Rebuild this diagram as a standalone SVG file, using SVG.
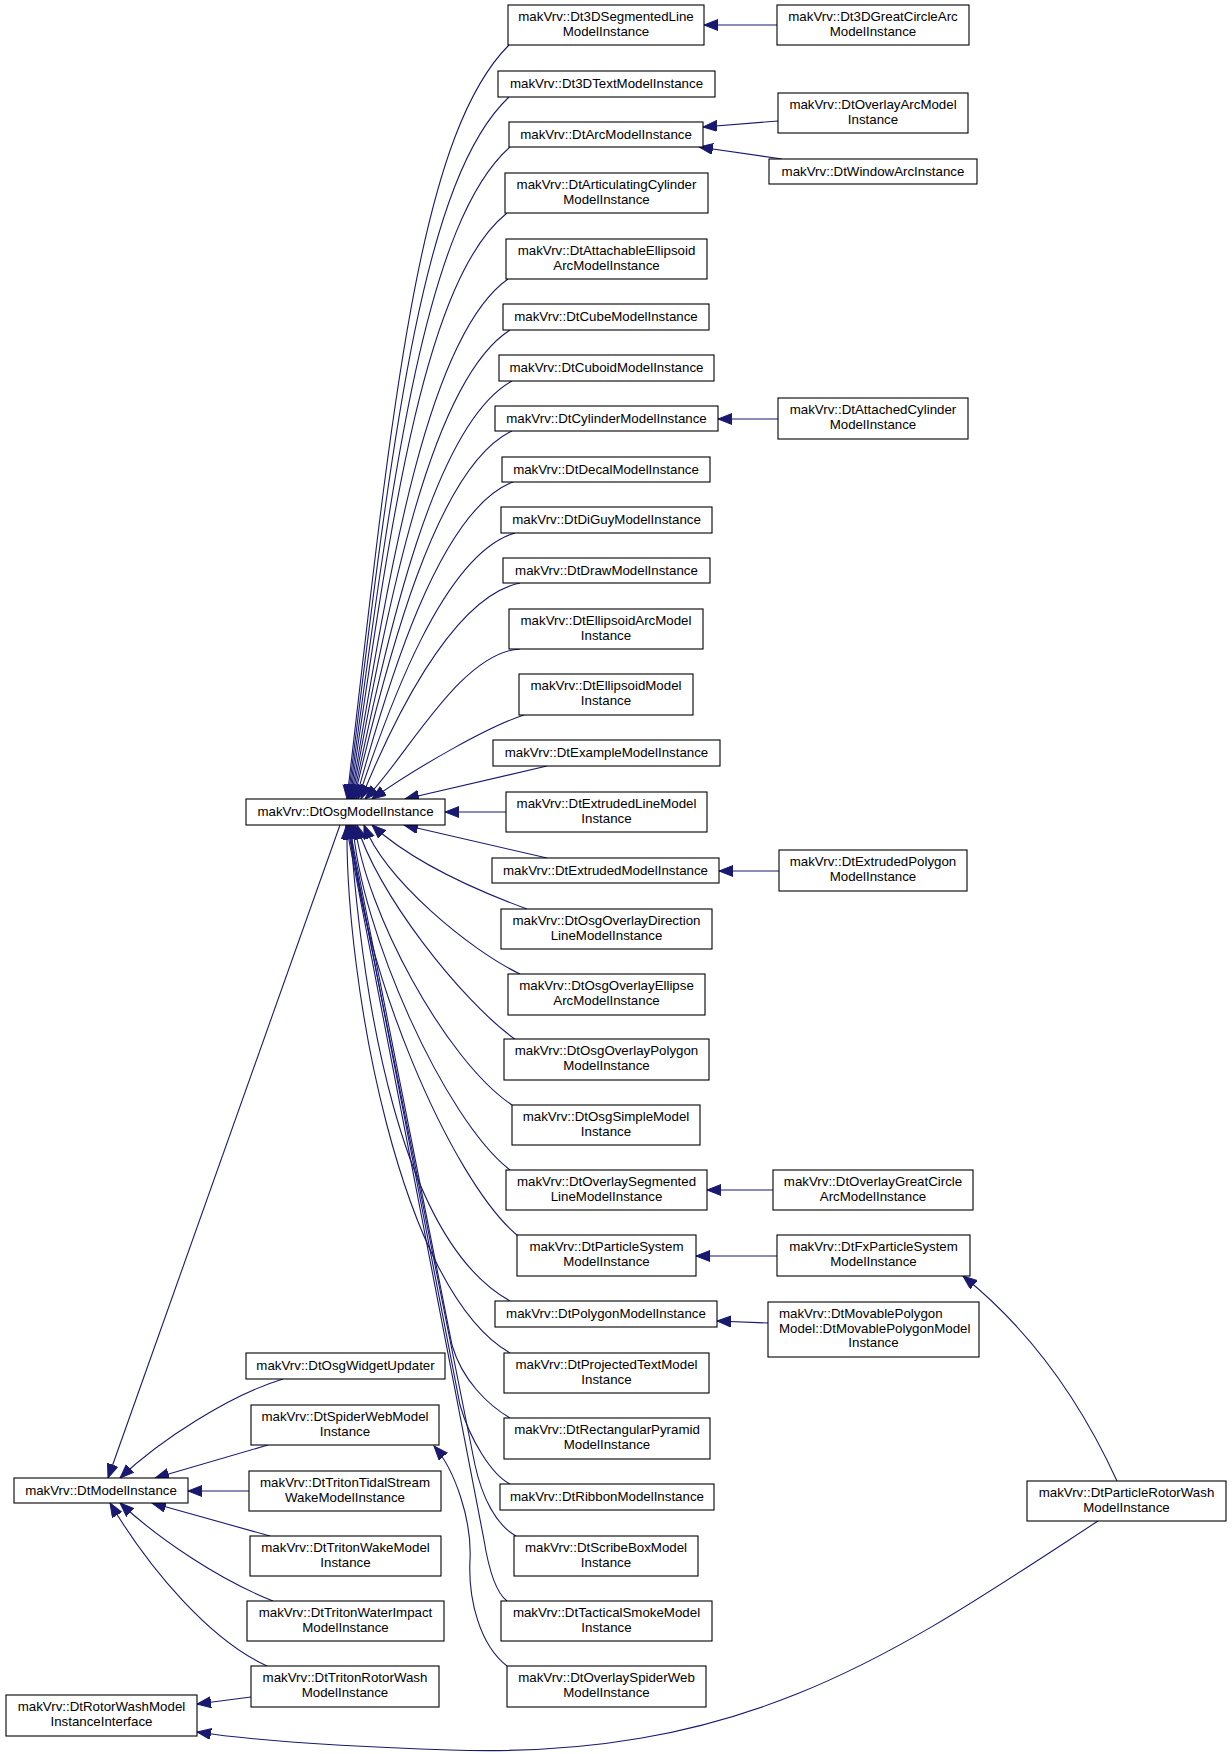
<svg xmlns="http://www.w3.org/2000/svg" width="1232" height="1754" viewBox="0 0 1232 1754">
<style>
.node rect{fill:#fff;stroke:#000;stroke-width:1.1}
.node text{font-family:"Liberation Sans",Arial,Helvetica,sans-serif;font-size:13.3px;text-anchor:middle;fill:#000}
.node text.l{text-anchor:start}
.edge{fill:none;stroke:#191970;stroke-width:1.1;marker-end:url(#ah)}
</style>
<defs>
<marker id="ah" markerWidth="15" markerHeight="12" refX="14" refY="5.5" orient="auto" markerUnits="userSpaceOnUse">
<path d="M0,0 L14,5.5 L0,11 Z" fill="#191970" stroke="#191970" stroke-width="1"/>
</marker>
</defs>
<rect width="1232" height="1754" fill="#fff"/>
<g id="edges">
<path class="edge" d="M509,45 C419,135 393,399 347,799"/>
<path class="edge" d="M509,97 C421,180 392,441 348,799"/>
<path class="edge" d="M510,147 C424,223 392,479 349,799"/>
<path class="edge" d="M507,213 C423,280 390,527 350,799"/>
<path class="edge" d="M508,279 C427,336 389,571 351,799"/>
<path class="edge" d="M510,330 C431,380 388,602 352,799"/>
<path class="edge" d="M512,381 C434,424 388,632 353,799"/>
<path class="edge" d="M512,431 C436,467 387,659 354,799"/>
<path class="edge" d="M513,482 C439,510 387,685 356,799"/>
<path class="edge" d="M515,533 C443,554 388,709 358,799"/>
<path class="edge" d="M520,583 C450,597 389,730 361,799"/>
<path class="edge" d="M520,649 C460,652 405,760 365,799"/>
<path class="edge" d="M524,715 C490,726 420,765 372,799"/>
<path class="edge" d="M547,766 L405,799"/>
<path class="edge" d="M506,812 L445,812"/>
<path class="edge" d="M547,858 L404,825"/>
<path class="edge" d="M527,909 C470,888 410,860 372,825"/>
<path class="edge" d="M520,974 C470,950 385,880 364,825"/>
<path class="edge" d="M516,1040 C460,1000 375,890 357,825"/>
<path class="edge" d="M512,1105 C445,1060 365,910 355,825"/>
<path class="edge" d="M510,1170 C445,1120 360,930 353,825"/>
<path class="edge" d="M518,1236 C450,1180 358,960 351,825"/>
<path class="edge" d="M510,1301 C400,1240 362,1000 350,825"/>
<path class="edge" d="M510,1353 C400,1290 345,980 347,825"/>
<path class="edge" d="M510,1418 C488,1405 462,1380 452,1345 L349,825"/>
<path class="edge" d="M510,1484 C492,1475 470,1440 460,1405 L348,825"/>
<path class="edge" d="M516,1536 C496,1525 482,1497 475,1465 L347,825"/>
<path class="edge" d="M507,1601 C494,1591 488,1565 484,1540 L346,825"/>
<path class="edge" d="M340,825 L108,1478"/>
<path class="edge" d="M283,1379 C230,1395 160,1440 120,1478"/>
<path class="edge" d="M268,1445 L155,1478"/>
<path class="edge" d="M249,1491 L188,1491"/>
<path class="edge" d="M270,1536 L152,1503"/>
<path class="edge" d="M273,1601 C220,1580 160,1540 120,1503"/>
<path class="edge" d="M267,1666 C210,1640 150,1570 110,1503"/>
<path class="edge" d="M251,1697 L197,1704"/>
<path class="edge" d="M1098,1521 C900,1650 750,1760 450,1750 C330,1746 250,1740 197,1732"/>
<path class="edge" d="M1117,1481 C1080,1400 1030,1330 963,1276"/>
<path class="edge" d="M507,1666 C480,1645 468,1600 470,1560 C472,1520 455,1470 434,1446"/>
<path class="edge" d="M777,25 L704,25"/>
<path class="edge" d="M778,121 L703,127"/>
<path class="edge" d="M782,159 L699,147"/>
<path class="edge" d="M778,419 L718,419"/>
<path class="edge" d="M779,871 L719,871"/>
<path class="edge" d="M773,1190 L707,1190"/>
<path class="edge" d="M777,1256 L696,1256"/>
<path class="edge" d="M768,1323 L717,1321"/>
</g>
<g id="n1" class="node"><rect x="508" y="5" width="196" height="40"/><text x="606" y="21">makVrv::Dt3DSegmentedLine</text><text x="606" y="35.5">ModelInstance</text></g>
<g id="n2" class="node"><rect x="498" y="71" width="217" height="26"/><text x="606.5" y="88">makVrv::Dt3DTextModelInstance</text></g>
<g id="n3" class="node"><rect x="509" y="122" width="194" height="25"/><text x="606" y="139">makVrv::DtArcModelInstance</text></g>
<g id="n4" class="node"><rect x="505" y="173" width="203" height="40"/><text x="606.5" y="189">makVrv::DtArticulatingCylinder</text><text x="606.5" y="203.5">ModelInstance</text></g>
<g id="n5" class="node"><rect x="506" y="239" width="201" height="40"/><text x="606.5" y="255">makVrv::DtAttachableEllipsoid</text><text x="606.5" y="269.5">ArcModelInstance</text></g>
<g id="n6" class="node"><rect x="503" y="304" width="206" height="26"/><text x="606" y="321">makVrv::DtCubeModelInstance</text></g>
<g id="n7" class="node"><rect x="499" y="355" width="215" height="26"/><text x="606.5" y="372">makVrv::DtCuboidModelInstance</text></g>
<g id="n8" class="node"><rect x="495" y="406" width="223" height="25"/><text x="606.5" y="423">makVrv::DtCylinderModelInstance</text></g>
<g id="n9" class="node"><rect x="502" y="457" width="208" height="25"/><text x="606" y="474">makVrv::DtDecalModelInstance</text></g>
<g id="n10" class="node"><rect x="501" y="507" width="211" height="26"/><text x="606.5" y="524">makVrv::DtDiGuyModelInstance</text></g>
<g id="n11" class="node"><rect x="503" y="558" width="207" height="25"/><text x="606.5" y="575">makVrv::DtDrawModelInstance</text></g>
<g id="n12" class="node"><rect x="509" y="609" width="194" height="40"/><text x="606" y="625">makVrv::DtEllipsoidArcModel</text><text x="606" y="639.5">Instance</text></g>
<g id="n13" class="node"><rect x="519" y="674" width="174" height="41"/><text x="606" y="690">makVrv::DtEllipsoidModel</text><text x="606" y="704.5">Instance</text></g>
<g id="n14" class="node"><rect x="493" y="740" width="227" height="26"/><text x="606.5" y="757">makVrv::DtExampleModelInstance</text></g>
<g id="n15" class="node"><rect x="506" y="792" width="201" height="40"/><text x="606.5" y="808">makVrv::DtExtrudedLineModel</text><text x="606.5" y="822.5">Instance</text></g>
<g id="n16" class="node"><rect x="492" y="858" width="227" height="25"/><text x="605.5" y="875">makVrv::DtExtrudedModelInstance</text></g>
<g id="n17" class="node"><rect x="501" y="909" width="211" height="40"/><text x="606.5" y="925">makVrv::DtOsgOverlayDirection</text><text x="606.5" y="939.5">LineModelInstance</text></g>
<g id="n18" class="node"><rect x="508" y="974" width="197" height="41"/><text x="606.5" y="990">makVrv::DtOsgOverlayEllipse</text><text x="606.5" y="1004.5">ArcModelInstance</text></g>
<g id="n19" class="node"><rect x="504" y="1039" width="205" height="41"/><text x="606.5" y="1055">makVrv::DtOsgOverlayPolygon</text><text x="606.5" y="1069.5">ModelInstance</text></g>
<g id="n20" class="node"><rect x="512" y="1105" width="188" height="40"/><text x="606" y="1121">makVrv::DtOsgSimpleModel</text><text x="606" y="1135.5">Instance</text></g>
<g id="n21" class="node"><rect x="506" y="1170" width="201" height="40"/><text x="606.5" y="1186">makVrv::DtOverlaySegmented</text><text x="606.5" y="1200.5">LineModelInstance</text></g>
<g id="n22" class="node"><rect x="517" y="1235" width="179" height="41"/><text x="606.5" y="1251">makVrv::DtParticleSystem</text><text x="606.5" y="1265.5">ModelInstance</text></g>
<g id="n23" class="node"><rect x="495" y="1301" width="222" height="26"/><text x="606" y="1318">makVrv::DtPolygonModelInstance</text></g>
<g id="n24" class="node"><rect x="504" y="1353" width="205" height="40"/><text x="606.5" y="1369">makVrv::DtProjectedTextModel</text><text x="606.5" y="1383.5">Instance</text></g>
<g id="n25" class="node"><rect x="504" y="1418" width="206" height="41"/><text x="607" y="1434">makVrv::DtRectangularPyramid</text><text x="607" y="1448.5">ModelInstance</text></g>
<g id="n26" class="node"><rect x="500" y="1484" width="214" height="26"/><text x="607" y="1501">makVrv::DtRibbonModelInstance</text></g>
<g id="n27" class="node"><rect x="514" y="1536" width="184" height="40"/><text x="606" y="1552">makVrv::DtScribeBoxModel</text><text x="606" y="1566.5">Instance</text></g>
<g id="n28" class="node"><rect x="501" y="1601" width="211" height="40"/><text x="606.5" y="1617">makVrv::DtTacticalSmokeModel</text><text x="606.5" y="1631.5">Instance</text></g>
<g id="n29" class="node"><rect x="507" y="1666" width="199" height="41"/><text x="606.5" y="1682">makVrv::DtOverlaySpiderWeb</text><text x="606.5" y="1696.5">ModelInstance</text></g>
<g id="r1" class="node"><rect x="777" y="5" width="192" height="40"/><text x="873" y="21">makVrv::Dt3DGreatCircleArc</text><text x="873" y="35.5">ModelInstance</text></g>
<g id="r2" class="node"><rect x="778" y="93" width="190" height="40"/><text x="873" y="109">makVrv::DtOverlayArcModel</text><text x="873" y="123.5">Instance</text></g>
<g id="r3" class="node"><rect x="769" y="159" width="208" height="25"/><text x="873" y="176">makVrv::DtWindowArcInstance</text></g>
<g id="r4" class="node"><rect x="778" y="398" width="190" height="41"/><text x="873" y="414">makVrv::DtAttachedCylinder</text><text x="873" y="428.5">ModelInstance</text></g>
<g id="r5" class="node"><rect x="779" y="850" width="188" height="41"/><text x="873" y="866">makVrv::DtExtrudedPolygon</text><text x="873" y="880.5">ModelInstance</text></g>
<g id="r6" class="node"><rect x="773" y="1170" width="200" height="40"/><text x="873" y="1186">makVrv::DtOverlayGreatCircle</text><text x="873" y="1200.5">ArcModelInstance</text></g>
<g id="r7" class="node"><rect x="777" y="1235" width="193" height="41"/><text x="873.5" y="1251">makVrv::DtFxParticleSystem</text><text x="873.5" y="1265.5">ModelInstance</text></g>
<g id="r8" class="node"><rect x="768" y="1302" width="211" height="55"/><text class="l" x="779" y="1318">makVrv::DtMovablePolygon</text><text class="l" x="779" y="1333">Model::DtMovablePolygonModel</text><text x="873.5" y="1347">Instance</text></g>
<g id="r9" class="node"><rect x="1027" y="1481" width="199" height="40"/><text x="1126.5" y="1497">makVrv::DtParticleRotorWash</text><text x="1126.5" y="1511.5">ModelInstance</text></g>
<g id="l1" class="node"><rect x="246" y="799" width="199" height="26"/><text x="345.5" y="816">makVrv::DtOsgModelInstance</text></g>
<g id="l2" class="node"><rect x="14" y="1478" width="174" height="25"/><text x="101" y="1495">makVrv::DtModelInstance</text></g>
<g id="l3" class="node"><rect x="6" y="1695" width="191" height="41"/><text x="101.5" y="1711">makVrv::DtRotorWashModel</text><text x="101.5" y="1725.5">InstanceInterface</text></g>
<g id="l4" class="node"><rect x="246" y="1353" width="199" height="26"/><text x="345.5" y="1370">makVrv::DtOsgWidgetUpdater</text></g>
<g id="l5" class="node"><rect x="251" y="1405" width="188" height="40"/><text x="345" y="1421">makVrv::DtSpiderWebModel</text><text x="345" y="1435.5">Instance</text></g>
<g id="l6" class="node"><rect x="249" y="1471" width="192" height="40"/><text x="345" y="1487">makVrv::DtTritonTidalStream</text><text x="345" y="1501.5">WakeModelInstance</text></g>
<g id="l7" class="node"><rect x="250" y="1536" width="191" height="40"/><text x="345.5" y="1552">makVrv::DtTritonWakeModel</text><text x="345.5" y="1566.5">Instance</text></g>
<g id="l8" class="node"><rect x="247" y="1601" width="197" height="40"/><text x="345.5" y="1617">makVrv::DtTritonWaterImpact</text><text x="345.5" y="1631.5">ModelInstance</text></g>
<g id="l9" class="node"><rect x="251" y="1666" width="188" height="41"/><text x="345" y="1682">makVrv::DtTritonRotorWash</text><text x="345" y="1696.5">ModelInstance</text></g>
</svg>
